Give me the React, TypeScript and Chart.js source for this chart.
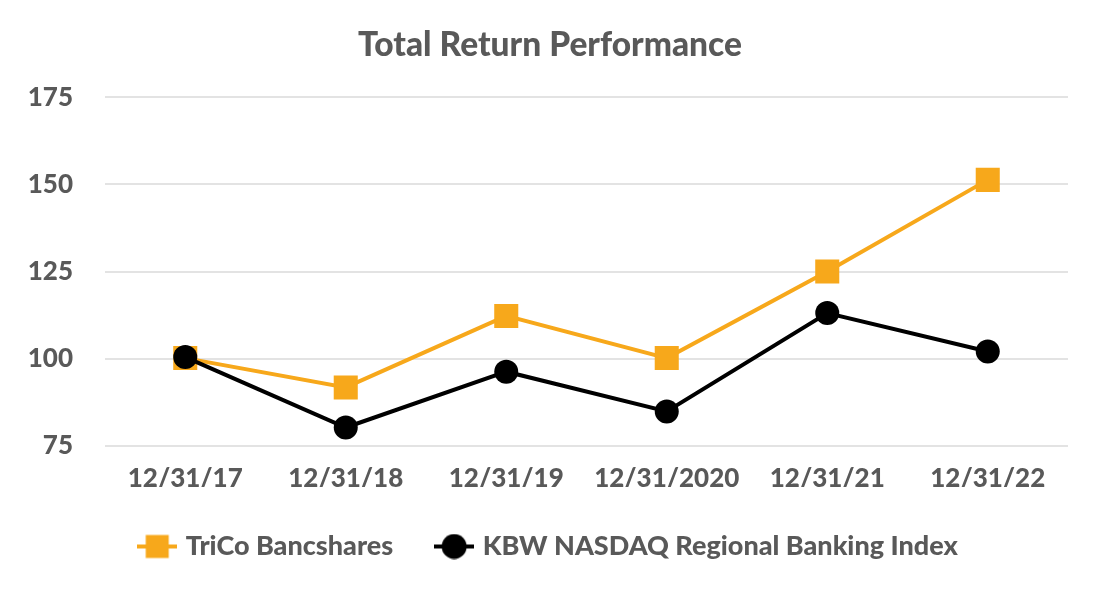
import React, { useEffect, useRef } from "react";
import { Chart, registerables } from "chart.js";

Chart.register(...registerables);

const categories = ["12/31/17", "12/31/18", "12/31/19", "12/31/2020", "12/31/21", "12/31/22"];
const tricoValues = [100.2, 91.8, 112.3, 100.2, 125.0, 151.3];
const kbwValues = [100.5, 80.3, 96.3, 84.9, 113.1, 102.1];
const seriesNames = ["TriCo Bancshares", "KBW NASDAQ Regional Banking Index"];
const yTicks = [75, 100, 125, 150, 175];

const ORANGE = "#F7A81B";
const BLACK = "#000000";
const TEXT = "#595959";
const FONT = "Lato";
const W = 900;

function makeLegendIcon(color: string, shape: "square" | "circle"): HTMLCanvasElement {
  const c = document.createElement("canvas");
  c.width = 40;
  c.height = 26;
  const ctx = c.getContext("2d")!;
  ctx.strokeStyle = color;
  ctx.lineWidth = 4;
  ctx.beginPath();
  ctx.moveTo(0, 13);
  ctx.lineTo(40, 13);
  ctx.stroke();
  ctx.fillStyle = color;
  if (shape === "square") {
    ctx.fillRect(8.5, 1.5, 23, 23);
  } else {
    ctx.beginPath();
    ctx.arc(20, 13, 12.5, 0, Math.PI * 2);
    ctx.fill();
  }
  return c;
}

export default function App() {
  const ref = useRef<HTMLCanvasElement | null>(null);

  useEffect(() => {
    if (!ref.current) return;
    const icons = [makeLegendIcon(ORANGE, "square"), makeLegendIcon(BLACK, "circle")];
    const chart = new Chart(ref.current, {
      type: "line",
      data: {
        labels: categories,
        datasets: [
          {
            label: seriesNames[0],
            data: tricoValues,
            borderColor: ORANGE,
            backgroundColor: ORANGE,
            borderWidth: 4,
            pointStyle: "rect",
            pointRadius: 17,
            pointHoverRadius: 17,
            pointBorderWidth: 0,
            order: 1,
          },
          {
            label: seriesNames[1],
            data: kbwValues,
            borderColor: BLACK,
            backgroundColor: BLACK,
            borderWidth: 4,
            pointStyle: "circle",
            pointRadius: 12,
            pointHoverRadius: 12,
            pointBorderWidth: 0,
            order: 0,
          },
        ],
      },
      options: {
        animation: false,
        responsive: true,
        maintainAspectRatio: false,
        layout: { padding: { left: 16, right: 16, top: 0, bottom: 30 } },
        plugins: {
          title: {
            display: true,
            text: "Total Return Performance",
            color: TEXT,
            font: { family: FONT, size: 33.5, weight: W as any },
            padding: { top: 25, bottom: 32 },
          },
          legend: {
            position: "bottom",
            labels: {
              color: TEXT,
              font: { family: FONT, size: 27, weight: W as any },
              usePointStyle: true,
              pointStyleWidth: 30,
              boxHeight: 27,
              padding: 46,
              sort: (a: any, b: any) => a.datasetIndex - b.datasetIndex,
              generateLabels: (ch: any) =>
                Chart.defaults.plugins.legend.labels.generateLabels(ch).map((it: any) => ({
                  ...it,
                  pointStyle: icons[it.datasetIndex],
                })),
            },
          },
          tooltip: { enabled: false },
        },
        scales: {
          x: {
            offset: true,
            grid: { display: false, drawTicks: false },
            border: { display: false },
            ticks: {
              color: TEXT,
              font: { family: FONT, size: 26, weight: W as any },
              padding: 17,
            },
            afterFit: (s: any) => {
              s.height = 41;
            },
          },
          y: {
            min: 75,
            max: 175,
            afterBuildTicks: (s: any) => {
              s.ticks = yTicks.map((v) => ({ value: v }));
            },
            grid: { color: "#E3E3E3", lineWidth: 2, drawTicks: false },
            border: { display: false },
            ticks: {
              color: TEXT,
              font: { family: FONT, size: 26, weight: W as any },
              padding: 32,
            },
            afterFit: (s: any) => {
              s.width = 89;
            },
          },
          ySpacer: {
            position: "right",
            min: 75,
            max: 175,
            grid: { display: false, drawTicks: false },
            border: { display: false },
            ticks: { display: false },
            afterFit: (s: any) => {
              s.width = 16;
            },
          },
        },
      },
    });
    return () => chart.destroy();
  }, []);

  return (
    <div style={{ position: "fixed", left: 0, top: 0, width: 1100, height: 600, background: "#fff" }}>
      <canvas ref={ref} />
    </div>
  );
}
